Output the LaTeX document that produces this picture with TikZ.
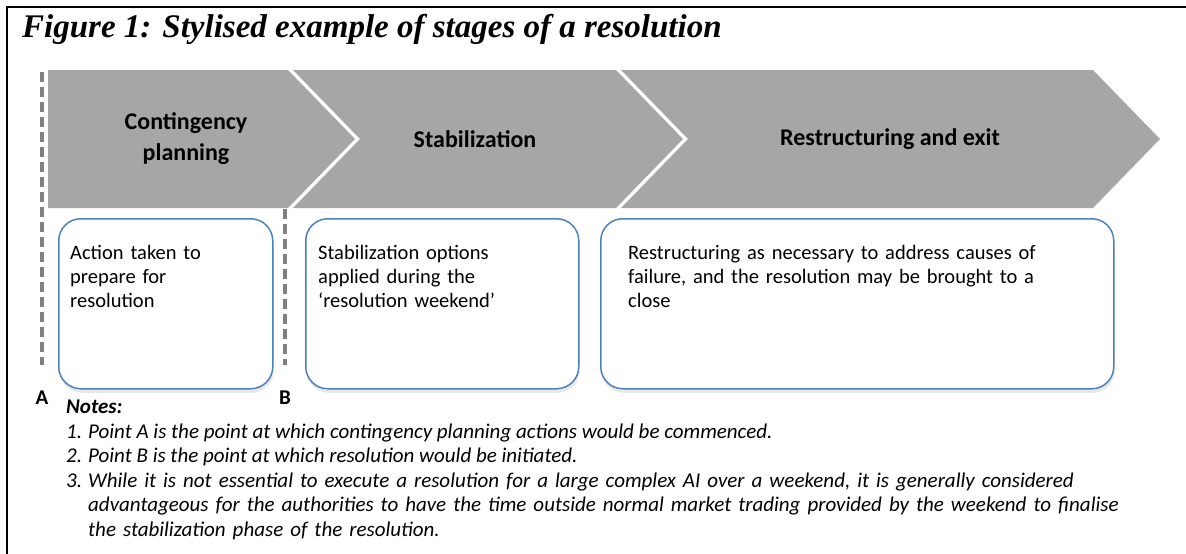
\documentclass[tikz,border=0pt]{standalone}
\usepackage{fontspec}
\setmainfont{Carlito}
\newfontfamily\titlefont{Liberation Serif}
\usetikzlibrary{positioning, shadows}

\definecolor{bandgrey}{HTML}{A6A6A6}
\definecolor{dashgrey}{HTML}{808080}
\definecolor{boxblue}{HTML}{4F81BD}

\tikzset{
  titletext/.style={anchor=base west, inner sep=0, font=\titlefont\fontsize{33}{36}\selectfont\bfseries\itshape},
  stagelabel/.style={align=center, font=\fontsize{24}{31}\selectfont\bfseries},
  notebox/.style={draw=boxblue, line width=1.5, fill=white, rounded corners=22, anchor=north west,
    minimum height=170, drop shadow={opacity=0.18, shadow xshift=1pt, shadow yshift=-4pt}},
  boxtext/.style={anchor=base west, inner sep=0, align=left, font=\fontsize{20.5}{24.4}\selectfont},
  marker/.style={draw=dashgrey, line width=3.5, dash pattern=on 10 off 5},
  pointlabel/.style={inner sep=0, font=\fontsize{21}{24}\selectfont\bfseries},
  notetext/.style={anchor=base west, inner sep=0, align=left, font=\fontsize{21}{24.5}\selectfont\itshape}
}

\begin{document}
\begin{tikzpicture}[x=1pt, y=-1pt]
\useasboundingbox (0,0) rectangle (1186,554);
\draw[line width=2.5] (1186,7) -- (7,7) -- (7,554);
\node[titletext] (title) at (22,37) {Figure 1: Stylised example of stages of a resolution};

% the three stages
\fill[bandgrey] (48,70) -- (288,70) -- (355,139) -- (288,208) -- (48,208) -- cycle;
\fill[bandgrey] (293,70) -- (616,70) -- (683,139) -- (616,208) -- (293,208) -- (360,139) -- cycle;
\fill[bandgrey] (621,70) -- (1093,70) -- (1160,139) -- (1093,208) -- (621,208) -- (688,139) -- cycle;
\node[stagelabel] (contingency) at (186,139) {Contingency\\planning};
\node[stagelabel] (stabilization) at (475,139) {Stabilization};
\node[stagelabel] (restructuring) at (890,139) {Restructuring and exit};

% points A and B
\node[pointlabel] (ptA) at (42,398) {A};
\node[pointlabel] (ptB) at (285,398) {B};
\coordinate (Atop) at (42,72);
\coordinate (Btop) at (285,209);
\draw[marker, shorten >=26pt] (Atop) -- (ptA.north);
\draw[marker, shorten >=26pt] (Btop) -- (ptB.north);

\node[notebox, minimum width=214] (box1) at (58,218) {};
\node[notebox, minimum width=273] (box2) at (305,218) {};
\node[notebox, minimum width=513] (box3) at (600,218) {};
\node[boxtext, text width=190] (txt1) at ([shift={(12,41)}]box1.north west)
  {Action taken to\\prepare for\\resolution};
\node[boxtext, text width=250] (txt2) at ([shift={(13,41)}]box2.north west)
  {Stabilization options\\applied during the\\`resolution weekend'};
\node[boxtext, text width=480] (txt3) at ([shift={(28,41)}]box3.north west)
  {Restructuring as necessary to address causes of\\failure, and the resolution may be brought to a\\close};

% notes
\node[notetext] (notes) at (66,413) {\bfseries Notes:};
\node[notetext] (num1) at (66,438) {1.};
\node[notetext] (num2) at (66,462) {2.};
\node[notetext] (num3) at (66,487) {3.};
\node[notetext] (note1) at (88,438) {Point A is the point at which contingency planning actions would be commenced.};
\node[notetext] (note2) at (88,462) {Point B is the point at which resolution would be initiated.};
\node[notetext, text width=1090] (note3) at (88,487)
  {While it is not essential to execute a resolution for a large complex AI over a weekend, it is generally considered\\
   advantageous for the authorities to have the time outside normal market trading provided by the weekend to finalise\\
   the stabilization phase of the resolution.};
\end{tikzpicture}
\end{document}
